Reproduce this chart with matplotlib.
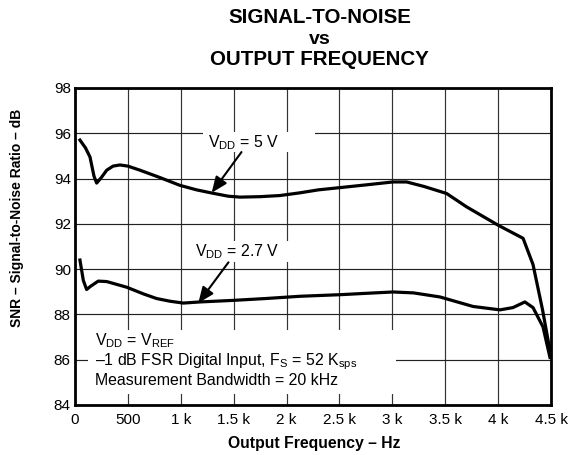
import matplotlib
matplotlib.use('Agg')
import matplotlib.pyplot as plt
from matplotlib.patches import Rectangle

plt.rcParams['font.family'] = ['Liberation Sans', 'DejaVu Sans']
plt.rcParams['mathtext.fontset'] = 'custom'
plt.rcParams['mathtext.rm'] = 'Liberation Sans'
plt.rcParams['mathtext.it'] = 'Liberation Sans:italic'
plt.rcParams['mathtext.bf'] = 'Liberation Sans:bold'

# Values
freq_5v = [47, 100, 142, 180, 205, 250, 300, 360, 425, 500, 614, 800, 992, 1150,
           1305, 1450, 1560, 1750, 1938, 2127, 2300, 2505, 2750, 3006, 3135, 3300,
           3513, 3702, 4000, 4236, 4330, 4420, 4490]
snr_5v = [95.7, 95.35, 94.95, 94.1, 93.8, 94.05, 94.37, 94.55, 94.6, 94.55, 94.37,
          94.05, 93.7, 93.5, 93.35, 93.22, 93.18, 93.2, 93.25, 93.37, 93.5, 93.6,
          93.72, 93.85, 93.85, 93.65, 93.34, 92.75, 91.94, 91.36, 90.2, 88.2, 86.4]

freq_27v = [47, 79, 110, 150, 220, 300, 489, 650, 772, 900, 1024, 1181, 1500, 1800,
            2127, 2505, 2750, 3006, 3200, 3450, 3763, 4017, 4140, 4253, 4330, 4424, 4490]
snr_27v = [90.4, 89.5, 89.1, 89.25, 89.47, 89.45, 89.2, 88.9, 88.7, 88.58, 88.5,
           88.55, 88.62, 88.7, 88.8, 88.87, 88.93, 88.99, 88.95, 88.77, 88.35, 88.2,
           88.3, 88.55, 88.3, 87.45, 86.1]

x_ticks = [0, 500, 1000, 1500, 2000, 2500, 3000, 3500, 4000, 4500]
x_tick_labels = ['0', '500', '1 k', '1.5 k', '2 k', '2.5 k', '3 k', '3.5 k', '4 k', '4.5 k']
y_ticks = [84, 86, 88, 90, 92, 94, 96, 98]

fig = plt.figure(figsize=(5.71, 4.55), dpi=100)
ax = fig.add_axes([0.1313, 0.110, 0.8337, 0.6966])

ax.set_xlim(0, 4500)
ax.set_ylim(84, 98)
ax.set_xticks(x_ticks)
ax.set_xticklabels(x_tick_labels)
ax.set_yticks(y_ticks)
ax.tick_params(axis='both', length=0, labelsize=11)
ax.tick_params(axis='x', pad=6)
ax.tick_params(axis='y', pad=3)

# grid drawn by hand so it sits under the label boxes
for xv in x_ticks:
    ax.axvline(xv, color='#333333', lw=0.85, zorder=0.5)
for yv in y_ticks:
    ax.axhline(yv, color='#222222', lw=0.85, zorder=0.5)

for s in ax.spines.values():
    s.set_linewidth(2.0)
    s.set_zorder(4)

ax.plot(freq_5v, snr_5v, color='black', lw=2.3, solid_joinstyle='round', zorder=3)
ax.plot(freq_27v, snr_27v, color='black', lw=2.3, solid_joinstyle='round', zorder=3)

# white boxes behind the labels
for (x0, y0, w, h) in [(1210, 95.17, 1060, 0.9), (1090, 90.3, 1000, 0.95),
                       (123, 84.5, 2910, 2.8)]:
    ax.add_patch(Rectangle((x0, y0), w, h, facecolor='white', edgecolor='none', zorder=1))

fig.text(0.030, 0.521, 'SNR – Signal-to-Noise Ratio – dB', rotation=90,
         ha='center', va='center', fontsize=10, fontweight='bold')
fig.text(0.550, 0.0154, 'Output Frequency – Hz', ha='center', va='baseline',
         fontsize=11.3, fontweight='bold')

fig.text(0.560, 0.9495, 'SIGNAL-TO-NOISE', ha='center', va='baseline',
         fontsize=14.8, fontweight='bold')
fig.text(0.560, 0.9033, 'vs', ha='center', va='baseline', fontsize=14, fontweight='bold')
fig.text(0.560, 0.857, 'OUTPUT FREQUENCY', ha='center', va='baseline',
         fontsize=14.8, fontweight='bold')

arrow = dict(arrowstyle='-|>,head_length=0.6,head_width=0.25', color='black', lw=1.5,
             mutation_scale=16, shrinkA=0, shrinkB=0)

ax.text(1257, 95.39, r'V$_{\mathregular{DD}}$ = 5 V', ha='left', va='baseline',
        fontsize=11.4, zorder=2)
ax.annotate('', xy=(1292, 93.37), xytext=(1574, 95.17), arrowprops=arrow, zorder=3)

ax.text(1134, 90.57, r'V$_{\mathregular{DD}}$ = 2.7 V', ha='left', va='baseline',
        fontsize=11.4, zorder=2)
ax.annotate('', xy=(1166, 88.5), xytext=(1451, 90.3), arrowprops=arrow, zorder=3)

ax.text(189, 86.63, 'V$_{\\mathregular{DD}}$ = V$_{\\mathregular{REF}}$',
        ha='left', va='baseline', fontsize=11.4, zorder=2)
ax.text(189, 85.74,
        '–1 dB FSR Digital Input, F$_{\\mathregular{S}}$ = 52 K$_{\\mathregular{sps}}$',
        ha='left', va='baseline', fontsize=11.4, zorder=2)
ax.text(189, 84.86, 'Measurement Bandwidth = 20 kHz',
        ha='left', va='baseline', fontsize=11.4, zorder=2)

fig.savefig('out.png', dpi=100)
